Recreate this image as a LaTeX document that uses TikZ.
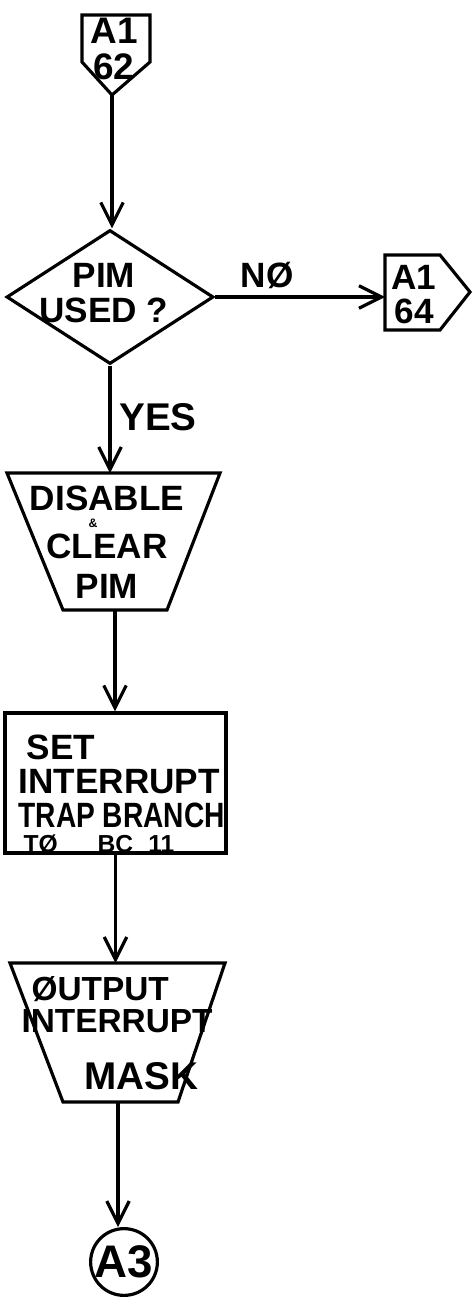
\documentclass[tikz,border=0pt]{standalone}
\usepackage{fontspec}
\setmainfont{Liberation Sans}
\usetikzlibrary{shapes.geometric}
\usetikzlibrary{arrows.meta}

\begin{document}
\begin{tikzpicture}[x=0.2mm,y=-0.2mm,line width=1.8pt,
  flow/.style={-{Straight Barb[length=4.5mm,width=4.5mm]}},
  txt/.style={inner sep=0pt}]
\useasboundingbox (0,0) rectangle (473,1311);

% connector in from page 62
\draw (82,15) -- (150,15) -- (150,62) -- (112,95) -- (82,62) -- cycle;
\coordinate (a1tip) at (112,95);
\node[txt,align=center,font=\fontsize{21}{20.5}\selectfont\bfseries]
  (a1top) at (114,49) {A1\\62};

% decision
\node[draw,diamond,minimum width=41.4mm,minimum height=26.8mm,
  inner sep=0pt] (used) at (110,297) {};
\node[txt,align=center,font=\fontsize{20}{20}\selectfont\bfseries]
  (usedtxt) at (104,293) {PIM\\USED ?};
\draw[flow] (a1tip) -- (a1tip |- used.north);

% connector out to page 64
\draw (385,255) -- (440,255) -- (470,292) -- (440,330) -- (385,330) -- cycle;
\coordinate (a1in) at (385,297);
\node[txt,align=center,font=\fontsize{20}{19.4}\selectfont\bfseries]
  (a1right) at (414,295) {A1\\64};
\draw[flow] (used.east) -- (a1in);
\node[txt,font=\fontsize{20}{20}\selectfont\bfseries] (no) at (267,275) {NØ};

% yes branch
\draw (7,473) -- (220,473) -- (167,610) -- (63,610) -- cycle;
\coordinate (disable-n) at (113.5,473);
\coordinate (disable-s) at (115,610);
\node[txt,align=center,font=\fontsize{20}{22.7}\selectfont\bfseries]
  (disable) at (107,542)
  {DISABLE\\[-13pt]{\fontsize{7}{7}\selectfont\&\kern5.6mm}\\[-5.1pt]CLEAR\\PIM};
\draw[flow] (used.south) -- (used.south |- disable-n);
\node[txt,font=\fontsize{22}{22}\selectfont\bfseries] (yes) at (158,417) {YES};

\node[draw,minimum width=44.2mm,minimum height=28mm,inner sep=0pt]
  (settrap) at (115.5,783) {};
\node[txt,align=left,anchor=north west,
  font=\fontsize{20}{19.5}\selectfont\bfseries] (settxt) at (17,733)
  {\hspace{1.6mm}SET\\INTERRUPT\\\scalebox{0.8}[1]{TRAP BRANCH}\\[-5.3pt]
   {\fontsize{14}{14}\selectfont\hspace{1mm}TØ\hspace{8mm}BC\hspace{3mm}11}};
\draw[flow] (disable-s) -- (disable-s |- settrap.north);

\draw (10,963) -- (225,963) -- (178,1102) -- (63,1102) -- cycle;
\coordinate (outmask-n) at (117.5,963);
\coordinate (outmask-s) at (118,1102);
\node[txt,align=left,anchor=north west,
  font=\fontsize{19}{18}\selectfont\bfseries] (outmask) at (20,975)
  {\hspace{2mm}ØUTPUT\\INTERRUPT\\[14.4pt]
   \hspace{12.6mm}{\fontsize{22}{22}\selectfont MASK}};
\draw[flow] (settrap.south) -- (settrap.south |- outmask-n);

% on to A3
\node[draw,circle,minimum size=12.8mm,inner sep=0pt,
  font=\fontsize{26}{26}\selectfont\bfseries] (a3) at (124,1262) {A3};
\draw[flow] (outmask-s) -- (outmask-s |- a3.north);
\end{tikzpicture}
\end{document}
